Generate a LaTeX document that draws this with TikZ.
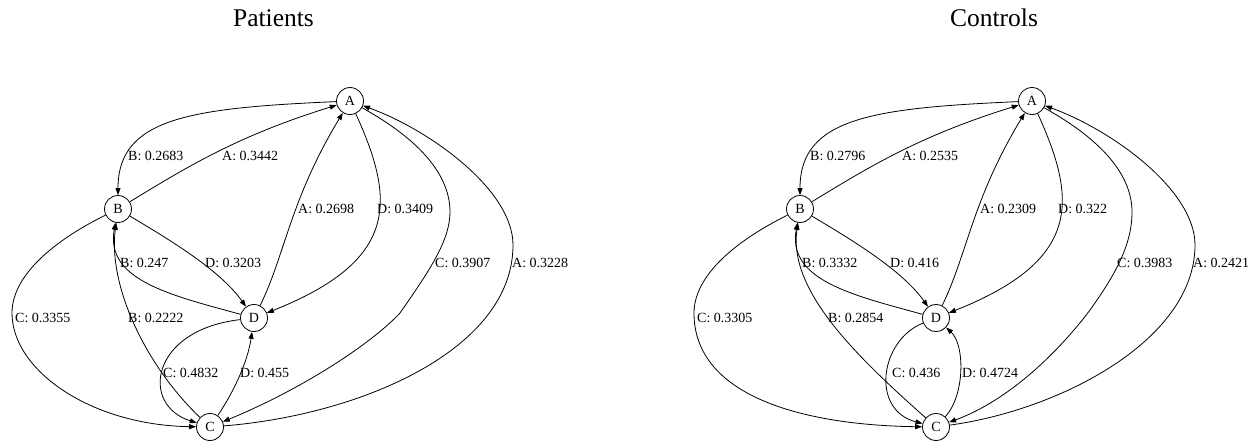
\documentclass[tikz,border=0pt]{standalone}
\usepackage{fontspec}
\setmainfont{Liberation Serif}
\usetikzlibrary{arrows.meta}
\begin{document}
\begin{tikzpicture}[x=1pt,y=-1pt,
  vtx/.style={draw,circle,minimum size=27pt,inner sep=0pt,line width=0.8pt,font=\fontsize{14}{16}\selectfont},
  conn/.style={-{Triangle[length=7pt,width=5pt]},line width=0.8pt},
  lab/.style={anchor=west,inner sep=0pt,font=\fontsize{14}{16}\selectfont},
  ttl/.style={anchor=base,inner sep=0pt,font=\fontsize{25.5}{28}\selectfont}]
\useasboundingbox (0,0) rectangle (1255,440);

% ---------------- Patients ----------------
\node[ttl] (tP) at (273.5,26) {Patients};
\node[vtx] (pA) at (350,101) {A};
\node[vtx] (pB) at (118,209) {B};
\node[vtx] (pD) at (254,318) {D};
\node[vtx] (pC) at (210,427) {C};

\draw[conn] (pA) .. controls (190,108) and (118,118) .. (pB);
\draw[conn] (pB) .. controls (190,165) and (240,135) .. (pA);
\draw[conn] (pD) .. controls (285,255) and (290,200) .. (pA);
\draw[conn] (pA) .. controls (395,200) and (400,260) .. (pD);
\draw[conn] (pB) .. controls (170,240) and (220,270) .. (pD);
\draw[conn] (pD) .. controls (170,295) and (105,280) .. (pB);
\draw[conn] (pB) .. controls (55,240) and (12,275) .. (12,313) .. controls (12,370) and (90,425) .. (pC);
\draw[conn] (pC) .. controls (145,365) and (108,285) .. (pB);
\draw[conn] (pD) .. controls (150,330) and (140,405) .. (pC);
\draw[conn] (pC) .. controls (235,390) and (248,360) .. (pD);
\draw[conn] (pA) .. controls (420,140) and (450,175) .. (450,212) .. controls (450,240) and (430,270) .. (400,313) .. controls (370,345) and (300,390) .. (pC);
\draw[conn] (pC) .. controls (360,415) and (513,350) .. (513,245) .. controls (513,190) and (430,130) .. (pA);

\node[lab] (pl1) at (128,156) {B: 0.2683};
\node[lab] (pl2) at (222,156) {A: 0.3442};
\node[lab] (pl3) at (298,209) {A: 0.2698};
\node[lab] (pl4) at (377,209) {D: 0.3409};
\node[lab] (pl5) at (120,263) {B: 0.247};
\node[lab] (pl6) at (205,263) {D: 0.3203};
\node[lab] (pl7) at (435,263) {C: 0.3907};
\node[lab] (pl8) at (512,263) {A: 0.3228};
\node[lab] (pl9) at (15,318) {C: 0.3355};
\node[lab] (pl10) at (128,318) {B: 0.2222};
\node[lab] (pl11) at (163,373) {C: 0.4832};
\node[lab] (pl12) at (240,373) {D: 0.455};

% ---------------- Controls ----------------
\node[ttl] (tC) at (994,26) {Controls};
\node[vtx] (cA) at (1032,101) {A};
\node[vtx] (cB) at (800,209) {B};
\node[vtx] (cD) at (936,318) {D};
\node[vtx] (cC) at (936,427) {C};

\draw[conn] (cA) .. controls (872,108) and (800,118) .. (cB);
\draw[conn] (cB) .. controls (872,165) and (922,135) .. (cA);
\draw[conn] (cD) .. controls (967,255) and (972,200) .. (cA);
\draw[conn] (cA) .. controls (1077,200) and (1082,260) .. (cD);
\draw[conn] (cB) .. controls (852,240) and (902,270) .. (cD);
\draw[conn] (cD) .. controls (852,295) and (787,280) .. (cB);
\draw[conn] (cB) .. controls (737,240) and (694,275) .. (694,313) .. controls (694,395) and (800,425) .. (cC);
\draw[conn] (cC) .. controls (855,355) and (788,290) .. (cB);
\draw[conn] (cD) .. controls (880,340) and (870,410) .. (cC);
\draw[conn] (cC) .. controls (965,395) and (965,345) .. (cD);
\draw[conn] (cA) .. controls (1102,140) and (1132,175) .. (1132,212) .. controls (1132,245) and (1115,275) .. (1090,310) .. controls (1060,350) and (1010,400) .. (cC);
\draw[conn] (cC) .. controls (1060,410) and (1195,340) .. (1195,245) .. controls (1195,190) and (1112,130) .. (cA);

\node[lab] (cl1) at (810,156) {B: 0.2796};
\node[lab] (cl2) at (902,156) {A: 0.2535};
\node[lab] (cl3) at (980,209) {A: 0.2309};
\node[lab] (cl4) at (1058,209) {D: 0.322};
\node[lab] (cl5) at (802,263) {B: 0.3332};
\node[lab] (cl6) at (890,263) {D: 0.416};
\node[lab] (cl7) at (1117,263) {C: 0.3983};
\node[lab] (cl8) at (1193,263) {A: 0.2421};
\node[lab] (cl9) at (697,318) {C: 0.3305};
\node[lab] (cl10) at (828,318) {B: 0.2854};
\node[lab] (cl11) at (892,373) {C: 0.436};
\node[lab] (cl12) at (962,373) {D: 0.4724};
\end{tikzpicture}
\end{document}
